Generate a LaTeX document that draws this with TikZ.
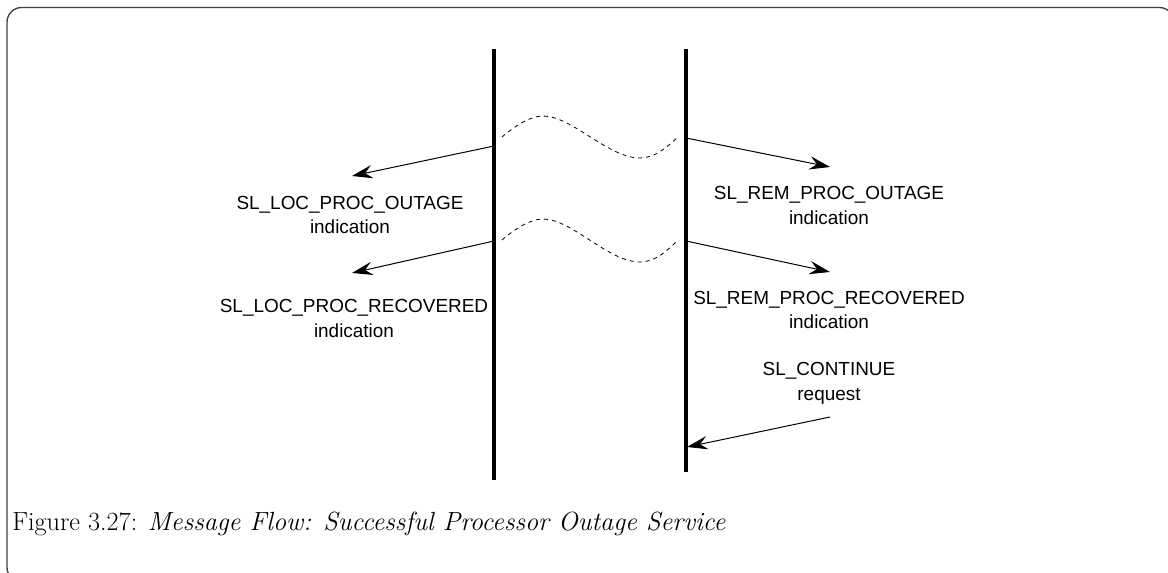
\documentclass[tikz,border=0pt]{standalone}
\usepackage{fontspec}
\newfontfamily\lblfont{Liberation Sans}
\usetikzlibrary{arrows.meta}
\begin{document}
\begin{tikzpicture}[x=0.75pt,y=-0.75pt,
  lifeline/.style={line width=2.3pt,black},
  msg/.style={line width=0.75pt,-{Stealth[length=15.5pt,width=10pt,inset=5.5pt]}},
  wave/.style={line width=0.6pt,dash pattern=on 3pt off 3pt},
  lbl/.style={font=\lblfont\fontsize{14.2}{18.7}\selectfont,align=center,inner sep=0pt},
  captext/.style={font=\fontsize{19.7}{23}\selectfont,anchor=west,inner sep=0pt},
  framebox/.style={line width=1pt,draw=black!75,rounded corners=11pt}]
\useasboundingbox (0,0) rectangle (1168,573);
\clip (0,0) rectangle (1168,573);
\draw[framebox] (7,7.5) rectangle (1174,582);
% lifelines
\coordinate (Ltop) at (494,49);
\coordinate (Lbot) at (494,480);
\coordinate (Rtop) at (686,49);
\coordinate (Rbot) at (686,472);
\draw[lifeline] (Ltop) -- (Lbot);
\draw[lifeline] (Rtop) -- (Rbot);
% message endpoints
\coordinate (L1) at (494,146);
\coordinate (L1e) at (352,176);
\coordinate (L2) at (494,241);
\coordinate (L2e) at (352,273);
\coordinate (R1) at (686,138);
\coordinate (R1e) at (830,167);
\coordinate (R2) at (686,241);
\coordinate (R2e) at (830,272);
\coordinate (C1) at (830,417);
\coordinate (C1e) at (687,447);
\draw[msg] (L1) -- (L1e);
\draw[msg] (L2) -- (L2e);
\draw[msg] (R1) -- (R1e);
\draw[msg] (R2) -- (R2e);
\draw[msg] (C1) -- (C1e);
% waves
\coordinate (W1s) at (502,137);
\coordinate (W1p) at (543,116);
\coordinate (W1t) at (640,158);
\coordinate (W1e) at (677,138);
\draw[wave] (W1s) .. controls (515,126) and (530,116) .. (W1p)
  .. controls (572,116) and (608,158) .. (W1t)
  .. controls (655,158) and (667,147) .. (W1e);
\coordinate (W2s) at (502,240);
\coordinate (W2p) at (543,219);
\coordinate (W2t) at (640,262);
\coordinate (W2e) at (677,241);
\draw[wave] (W2s) .. controls (515,229) and (530,219) .. (W2p)
  .. controls (572,219) and (608,262) .. (W2t)
  .. controls (655,262) and (667,251) .. (W2e);
% labels
\node[lbl] (t1) at (350,215) {SL\_LOC\_PROC\_OUTAGE\\indication};
\node[lbl] (t2) at (354,318.5) {SL\_LOC\_PROC\_RECOVERED\\indication};
\node[lbl] (t3) at (829,205.5) {SL\_REM\_PROC\_OUTAGE\\indication};
\node[lbl] (t4) at (829,310) {SL\_REM\_PROC\_RECOVERED\\indication};
\node[lbl] (t5) at (829,383.5) {SL\_CONTINUE\\request};
\node[captext] (capt) at (12,524) {Figure 3.27: \textit{Message Flow: Successful Processor Outage Service}};
\end{tikzpicture}
\end{document}
